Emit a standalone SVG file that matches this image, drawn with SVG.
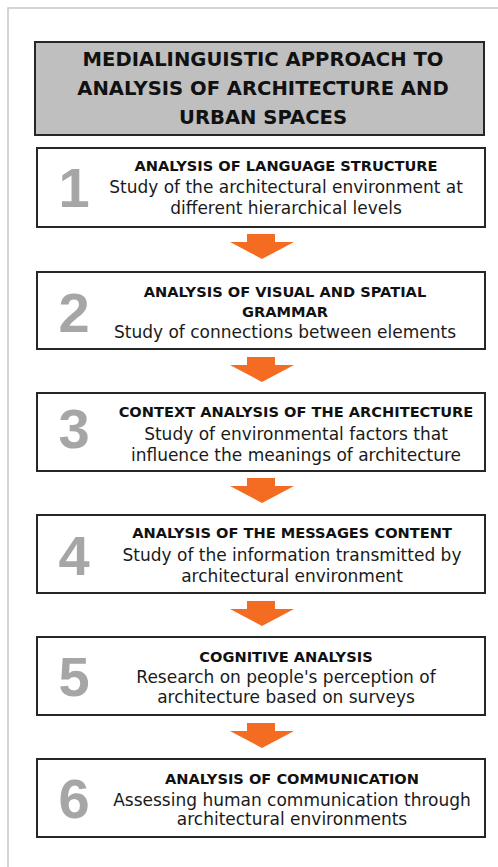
<svg xmlns="http://www.w3.org/2000/svg" width="498" height="867" viewBox="0 0 498 867">
<style>
.frame{fill:#ffffff;stroke:#c8c8c8;stroke-width:1.5}
.box{fill:#ffffff;stroke:#262626;stroke-width:2}
.tbox{fill:#bfbfbf;stroke:#262626;stroke-width:2}
.title{font-family:"DejaVu Sans",sans-serif;font-weight:bold;font-size:19.6px;fill:#111;text-anchor:middle}
.head{font-family:"DejaVu Sans",sans-serif;font-weight:bold;font-size:14.6px;fill:#111;text-anchor:middle}
.body{font-family:"DejaVu Sans",sans-serif;font-size:17px;fill:#1a1a1a;text-anchor:middle}
.num{font-family:"Liberation Sans",Arial,sans-serif;font-weight:bold;font-size:56px;fill:#a6a6a6;text-anchor:middle}
.arrow{fill:#f36c21}
</style>
<rect class="frame" x="8" y="8" width="500" height="870"/>
<g id="title">
<rect class="tbox" x="35" y="42" width="449" height="93"/>
<text class="title" x="263" y="66">MEDIALINGUISTIC APPROACH TO</text>
<text class="title" x="263" y="95">ANALYSIS OF ARCHITECTURE AND</text>
<text class="title" x="263" y="124">URBAN SPACES</text>
</g>
<g id="step1">
<rect class="box" x="37" y="148" width="448" height="79"/>
<text class="num" x="74" y="207">1</text>
<text class="head" x="286" y="171">ANALYSIS OF LANGUAGE STRUCTURE</text>
<text class="body" x="286" y="193">Study of the architectural environment at</text>
<text class="body" x="286" y="214">different hierarchical levels</text>
</g>
<g id="step2">
<rect class="box" x="37" y="272" width="448" height="77"/>
<text class="num" x="74" y="332">2</text>
<text class="head" x="285" y="297">ANALYSIS OF VISUAL AND SPATIAL</text>
<text class="head" x="285" y="317">GRAMMAR</text>
<text class="body" x="285" y="338">Study of connections between elements</text>
</g>
<g id="step3">
<rect class="box" x="37" y="393" width="448" height="78"/>
<text class="num" x="74" y="448">3</text>
<text class="head" x="296" y="417">CONTEXT ANALYSIS OF THE ARCHITECTURE</text>
<text class="body" x="296" y="440">Study of environmental factors that</text>
<text class="body" x="296" y="461">influence the meanings of architecture</text>
</g>
<g id="step4">
<rect class="box" x="37" y="515" width="448" height="78"/>
<text class="num" x="74" y="575">4</text>
<text class="head" x="292" y="538">ANALYSIS OF THE MESSAGES CONTENT</text>
<text class="body" x="292" y="561">Study of the information transmitted by</text>
<text class="body" x="292" y="582">architectural environment</text>
</g>
<g id="step5">
<rect class="box" x="37" y="637" width="448" height="78"/>
<text class="num" x="74" y="696">5</text>
<text class="head" x="286" y="662">COGNITIVE ANALYSIS</text>
<text class="body" x="286" y="683">Research on people's perception of</text>
<text class="body" x="286" y="703">architecture based on surveys</text>
</g>
<g id="step6">
<rect class="box" x="37" y="759" width="448" height="78"/>
<text class="num" x="74" y="818">6</text>
<text class="head" x="292" y="784">ANALYSIS OF COMMUNICATION</text>
<text class="body" x="292" y="806">Assessing human communication through</text>
<text class="body" x="292" y="825">architectural environments</text>
</g>
<g id="connectors">
<polygon class="arrow" points="247,234 275,234 275,242 294,242 262,259 230,242 247,242"/>
<polygon class="arrow" points="247,357 275,357 275,365 294,365 262,382 230,365 247,365"/>
<polygon class="arrow" points="247,478 275,478 275,486 294,486 262,503 230,486 247,486"/>
<polygon class="arrow" points="247,601 275,601 275,609 294,609 262,626 230,609 247,609"/>
<polygon class="arrow" points="247,723 275,723 275,731 294,731 262,748 230,731 247,731"/>
</g>
</svg>
